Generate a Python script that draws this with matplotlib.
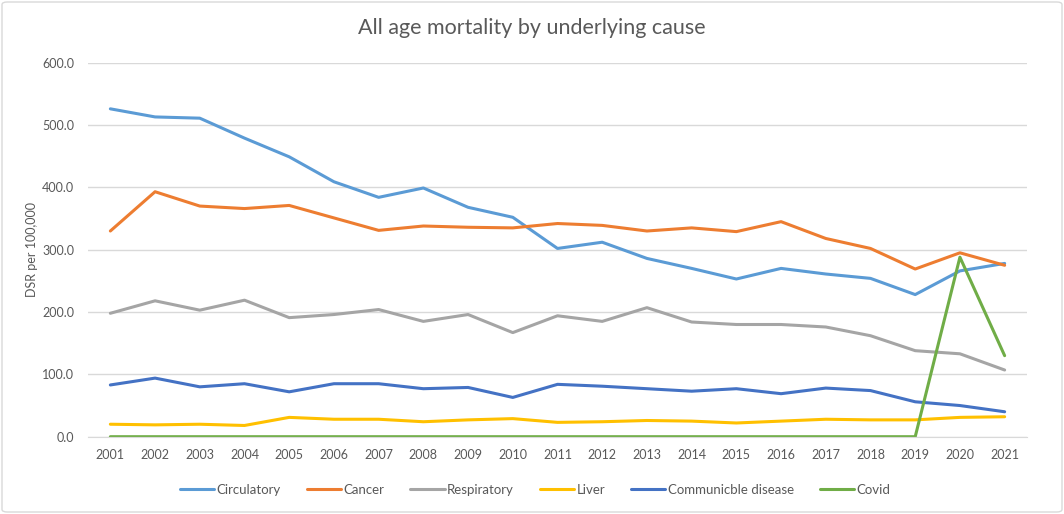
import matplotlib
matplotlib.use("Agg")
import matplotlib.pyplot as plt
from matplotlib.patches import FancyBboxPatch

plt.rcParams['font.family'] = ['Lato', 'DejaVu Sans']

years = [str(y) for y in range(2001, 2022)]
circulatory = [526, 513, 511, 479, 449, 409, 384, 399, 368, 352, 302, 312, 286, 270, 253, 270, 261, 254, 228, 266, 278]
cancer = [330, 393, 370, 366, 371, 351, 331, 338, 336, 335, 342, 339, 330, 335, 329, 345, 318, 302, 269, 295, 275]
respiratory = [198, 218, 203, 219, 191, 196, 204, 185, 196, 167, 194, 185, 207, 184, 180, 180, 176, 162, 138, 133, 107]
liver = [20, 19, 20, 18, 31, 28, 28, 24, 27, 29, 23, 24, 26, 25, 22, 25, 28, 27, 27, 31, 32]
communicable = [83, 94, 80, 85, 72, 85, 85, 77, 79, 63, 84, 81, 77, 73, 77, 69, 78, 74, 56, 50, 40]
covid = [0, 0, 0, 0, 0, 0, 0, 0, 0, 0, 0, 0, 0, 0, 0, 0, 0, 0, 0, 288, 130]

series = [
    ("Circulatory", circulatory, "#5B9BD5"),
    ("Cancer", cancer, "#ED7D31"),
    ("Respiratory", respiratory, "#A5A5A5"),
    ("Liver", liver, "#FFC000"),
    ("Communicble disease", communicable, "#4472C4"),
    ("Covid", covid, "#70AD47"),
]

fig = plt.figure(figsize=(10.64, 5.14), dpi=100)
ax = fig.add_axes([88/1064, 1 - 436.7/514, (1027-88)/1064, (436.7-62.7)/514])

x = list(range(len(years)))
for name, vals, col in series:
    ax.plot(x, vals, color=col, lw=2.2, label=name, solid_joinstyle='round', solid_capstyle='round')

ax.set_xlim(-0.5, len(years) - 0.5)
ax.set_ylim(0, 600)
ax.set_yticks([0, 100, 200, 300, 400, 500, 600])
ax.set_yticklabels([f"{v:.1f}" for v in [0, 100, 200, 300, 400, 500, 600]])
ax.set_xticks(x)
ax.set_xticklabels(years)
ax.grid(axis='y', color='#D9D9D9', lw=1)
ax.set_axisbelow(True)
for s in ['top', 'right', 'left']:
    ax.spines[s].set_visible(False)
ax.spines['bottom'].set_color('#D9D9D9')
ax.tick_params(axis='y', length=0, colors='#595959', labelsize=9, pad=10)
ax.tick_params(axis='x', length=0, colors='#595959', labelsize=9, pad=9)
ax.set_ylabel("DSR per 100,000", color='#595959', fontsize=9, labelpad=3)

fig.text(0.5, 1 - 28/514, "All age mortality by underlying cause", ha='center', va='center',
         fontsize=15.5, color='#595959')

leg = fig.legend(loc='center', bbox_to_anchor=(0.503, 1 - 490/514), ncol=6, frameon=False,
                 fontsize=9.5, handlelength=2.6, handletextpad=0.2, columnspacing=1.95)
for t in leg.get_texts():
    t.set_color('#595959')

border = FancyBboxPatch((2/1064, 2/514), 1 - 4/1064, 1 - 4/514, boxstyle="round,pad=0,rounding_size=0.005",
                        transform=fig.transFigure, fill=False, edgecolor='#D9D9D9', lw=1)
fig.patches.append(border)

fig.savefig("out.png", dpi=100)
